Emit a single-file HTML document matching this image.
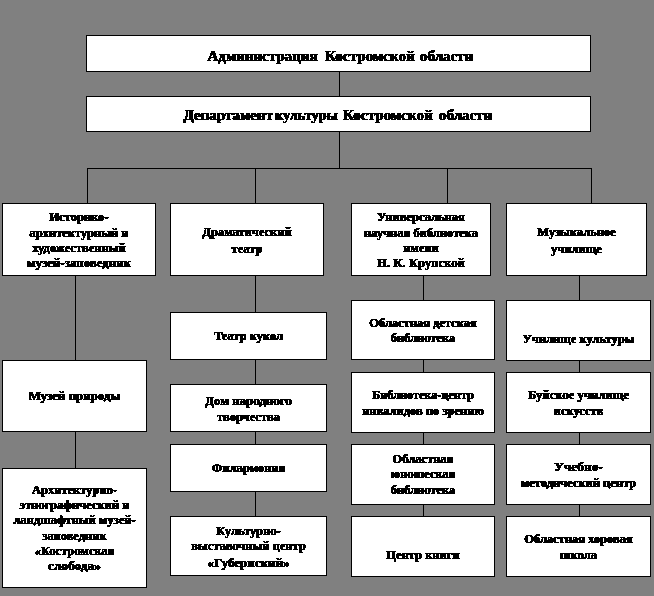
<!DOCTYPE html>
<html><head><meta charset="utf-8"><style>
html,body{margin:0;padding:0;}
body{width:654px;height:596px;background:#808080;position:relative;overflow:hidden;font-family:"Liberation Serif",serif;font-weight:bold;color:#000;}
.b{position:absolute;box-sizing:border-box;border:1px solid #000;background:#fff;}
.l{position:absolute;background:#000;}
.t{position:absolute;left:0;right:0;text-align:center;white-space:nowrap;line-height:15px;filter:url(#th);-webkit-text-stroke:0.3px #000;text-shadow:0.4px 0 0 #000,-0.4px 0 0 #000;}
.s{font-size:13px;transform:scaleX(0.96);}
.m{font-size:15px;}
.w{right:auto;text-align:left;}
</style></head><body>
<svg width="0" height="0" style="position:absolute"><filter id="th" x="0" y="0" width="100%" height="100%"><feComponentTransfer><feFuncA type="discrete" tableValues="0 0 0 0 0 0 0 0 0 1 1 1 1 1 1 1 1 1 1 1"/></feComponentTransfer></filter></svg>

<div class="l" style="left:339px;top:72px;width:1px;height:24px"></div>
<div class="l" style="left:339px;top:132px;width:1px;height:37px"></div>
<div class="l" style="left:87px;top:168px;width:505px;height:1px"></div>
<div class="l" style="left:87px;top:168px;width:1px;height:35px"></div>
<div class="l" style="left:255px;top:168px;width:1px;height:35px"></div>
<div class="l" style="left:447px;top:168px;width:1px;height:35px"></div>
<div class="l" style="left:591px;top:168px;width:1px;height:35px"></div>
<div class="l" style="left:75px;top:276px;width:1px;height:84px"></div>
<div class="l" style="left:75px;top:432px;width:1px;height:36px"></div>
<div class="l" style="left:255px;top:276px;width:1px;height:36px"></div>
<div class="l" style="left:255px;top:360px;width:1px;height:24px"></div>
<div class="l" style="left:255px;top:432px;width:1px;height:12px"></div>
<div class="l" style="left:255px;top:492px;width:1px;height:24px"></div>
<div class="l" style="left:423px;top:276px;width:1px;height:24px"></div>
<div class="l" style="left:423px;top:360px;width:1px;height:12px"></div>
<div class="l" style="left:423px;top:433px;width:1px;height:11px"></div>
<div class="l" style="left:423px;top:505px;width:1px;height:11px"></div>
<div class="l" style="left:579px;top:276px;width:1px;height:24px"></div>
<div class="l" style="left:579px;top:361px;width:1px;height:11px"></div>
<div class="l" style="left:579px;top:433px;width:1px;height:11px"></div>
<div class="l" style="left:579px;top:505px;width:1px;height:11px"></div>
<div class="b" style="left:86px;top:35px;width:505px;height:37px"><div class="t m w" style="top:12.7px;left:120.5px">Администрация</div><div class="t m w" style="top:12.7px;left:237.8px;transform:scaleX(1.01);transform-origin:0 0">Костромской</div><div class="t m w" style="top:12.7px;left:333px">области</div></div>
<div class="b" style="left:86px;top:96px;width:505px;height:36px"><div class="t m w" style="top:10.7px;left:96.5px">Департамент</div><div class="t m w" style="top:10.7px;left:188.3px;transform:scaleX(0.95);transform-origin:0 0">культуры</div><div class="t m w" style="top:10.7px;left:255.6px;transform:scaleX(1.01);transform-origin:0 0">Костромской</div><div class="t m w" style="top:10.7px;left:352px">области</div></div>
<div class="b" style="left:2px;top:203px;width:154px;height:73px"><div class="t s" style="top:5px">Историко-</div><div class="t s" style="top:21px">архитектурный и</div><div class="t s" style="top:36px">художественный</div><div class="t s" style="top:51px;transform:scaleX(0.99)">музей-заповедник</div></div>
<div class="b" style="left:170px;top:203px;width:154px;height:73px"><div class="t s" style="top:20px">Драматический</div><div class="t s" style="top:37px">театр</div></div>
<div class="b" style="left:351px;top:203px;width:140px;height:73px"><div class="t s" style="top:5px">Универсальная</div><div class="t s" style="top:21px">научная библиотека</div><div class="t s" style="top:36px">имени</div><div class="t s" style="top:51px;transform:scaleX(0.975)">Н. К. Крупской</div></div>
<div class="b" style="left:506px;top:203px;width:141px;height:73px"><div class="t s" style="top:20px">Музыкальное</div><div class="t s" style="top:37px">училище</div></div>
<div class="b" style="left:2px;top:360px;width:145px;height:72px"><div class="t s" style="top:27px;transform:scaleX(0.99)">Музей природы</div></div>
<div class="b" style="left:2px;top:468px;width:145px;height:120px"><div class="t s" style="top:13px">Архитектурно-</div><div class="t s" style="top:28px">этнографический и</div><div class="t s" style="top:43px">ландшафтный музей-</div><div class="t s" style="top:59px">заповедник</div><div class="t s" style="top:74px">«Костромская</div><div class="t s" style="top:89px;transform:scaleX(1.02)">слобода»</div></div>
<div class="b" style="left:170px;top:312px;width:157px;height:48px"><div class="t s" style="top:15px">Театр кукол</div></div>
<div class="b" style="left:170px;top:384px;width:157px;height:48px"><div class="t s" style="top:8px;transform:scaleX(0.995)">Дом народного</div><div class="t s" style="top:24px">творчества</div></div>
<div class="b" style="left:170px;top:444px;width:157px;height:48px"><div class="t s" style="top:15px">Филармония</div></div>
<div class="b" style="left:170px;top:516px;width:157px;height:60px"><div class="t s" style="top:6px">Культурно-</div><div class="t s" style="top:21px">выставочный центр</div><div class="t s" style="top:38px;transform:scaleX(1.0)">«Губернский»</div></div>
<div class="b" style="left:351px;top:300px;width:144px;height:60px"><div class="t s" style="top:14px">Областная детская</div><div class="t s" style="top:29px">библиотека</div></div>
<div class="b" style="left:351px;top:372px;width:144px;height:61px"><div class="t s" style="top:14px;transform:scaleX(0.94)">Библиотека-центр</div><div class="t s" style="top:30px">инвалидов по зрению</div></div>
<div class="b" style="left:351px;top:444px;width:144px;height:61px"><div class="t s" style="top:6px">Областная</div><div class="t s" style="top:21px">юношеская</div><div class="t s" style="top:37px">библиотека</div></div>
<div class="b" style="left:351px;top:516px;width:144px;height:61px"><div class="t s" style="top:30px">Центр книги</div></div>
<div class="b" style="left:506px;top:300px;width:145px;height:61px"><div class="t s" style="top:30px">Училище культуры</div></div>
<div class="b" style="left:506px;top:372px;width:145px;height:61px"><div class="t s" style="top:14px;transform:scaleX(0.975)">Буйское училище</div><div class="t s" style="top:30px">искусств</div></div>
<div class="b" style="left:506px;top:444px;width:145px;height:61px"><div class="t s" style="top:14px;transform:scaleX(1.03)">Учебно-</div><div class="t s" style="top:30px">методический центр</div></div>
<div class="b" style="left:506px;top:516px;width:145px;height:61px"><div class="t s" style="top:14px">Областная хоровая</div><div class="t s" style="top:30px">школа</div></div>
</body></html>
